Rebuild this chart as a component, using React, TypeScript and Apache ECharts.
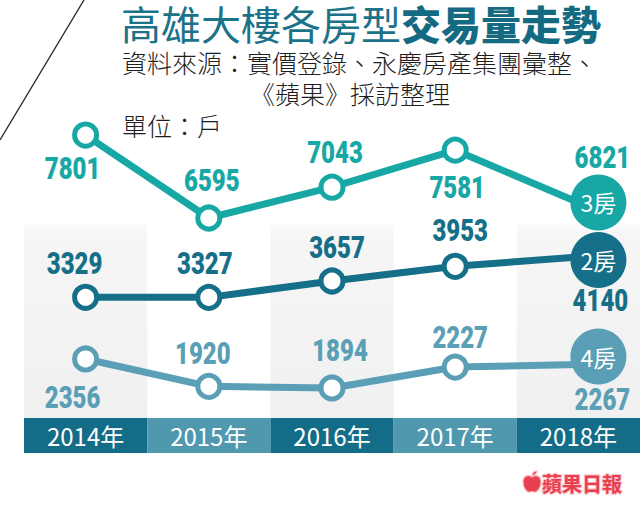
import React, { useEffect, useRef } from 'react';
import * as echarts from 'echarts';

const years = ['2014年', '2015年', '2016年', '2017年', '2018年'];
const seriesNames = ['3房', '2房', '4房'];
const rooms3 = [7801, 6595, 7043, 7581, 6821];
const rooms2 = [3329, 3327, 3657, 3953, 4140];
const rooms4 = [2356, 1920, 1894, 2227, 2267];

const title1 = '高雄大樓各房型';
const title2 = '交易量走勢';
const source1 = '資料來源：實價登錄、永慶房產集團彙整、';
const source2 = '《蘋果》採訪整理';
const unitText = '單位：戶';
const logoText = '蘋果日報';

// layout (label offsets relative to each point)
const off3 = [[-13, 33], [3, -38], [3, -35], [2, 37], [24, -45]];
const off2 = [[-11, -34], [-4, -34], [5, -34], [5, -36], [22, 43]];
const off4 = [[-13, 38], [-6, -33], [8, -38], [5, -30], [24, 35]];
const endOffsets = [[20, 0], [20, 3], [20, -8]];
const axisRanges = [[3688, 9764], [895, 9322], [1416, 8072]];

const C3 = '#17a8a5';
const C2 = '#156f88';
const C4 = '#5a9fb6';
const NUM_FONT = "900 32px Roboto, 'Liberation Sans', sans-serif";
const CJK = "'Noto Sans CJK TC', 'Noto Sans', sans-serif";

const APPLE = 'M10 6 C6 3 1 5 1 11 C1 17 5 22 8 21 C9 20.5 11 20.5 12 21 C15 22 19 17 19 11 C19 5 14 3 10 6 Z M10 5 C10 2 12 0 15 0 C15 2 13 4 10 5 Z';

function lineSeries(name: string, values: number[], color: string, yIdx: number) {
  return {
    type: 'line',
    name,
    xAxisIndex: 0,
    yAxisIndex: yIdx,
    symbol: 'circle',
    symbolSize: 22,
    lineStyle: { width: 7, color },
    itemStyle: { color: '#ffffff', borderColor: color, borderWidth: 5 },
    data: values.map((v, i) => ({
      value: v,
      symbolSize: i === values.length - 1 ? 1 : 22,
    })),
    z: 3,
  };
}

function labelSeries(values: number[], offs: number[][], color: string, yIdx: number) {
  return {
    type: 'custom',
    xAxisIndex: 0,
    yAxisIndex: yIdx,
    data: values.map((v, i) => [i, v]),
    renderItem: (params: any, api: any) => {
      const i = params.dataIndex;
      const p = api.coord([api.value(0), api.value(1)]);
      return {
        type: 'text',
        x: p[0] + offs[i][0],
        y: p[1] + offs[i][1],
        scaleX: 0.75,
        style: {
          text: String(values[i]),
          font: NUM_FONT,
          fill: color,
          align: 'center',
          verticalAlign: 'middle',
        },
      };
    },
    z: 4,
  };
}

function endSeries(name: string, values: number[], color: string, yIdx: number, off: number[]) {
  return {
    type: 'scatter',
    xAxisIndex: 0,
    yAxisIndex: yIdx,
    symbol: 'circle',
    symbolSize: 56,
    itemStyle: { color, opacity: 1 },
    label: {
      show: true,
      position: 'inside',
      formatter: name,
      color: '#ffffff',
      fontSize: 23,
      fontFamily: CJK,
    },
    data: [{ value: [years[years.length - 1], values[values.length - 1]], symbolOffset: off }],
    z: 5,
  };
}

export default function App() {
  const ref = useRef<HTMLDivElement>(null);
  useEffect(() => {
    if (!ref.current) return;
    try {
      echarts.graphic.registerShape('apple', echarts.graphic.extendPath(APPLE, {}) as any);
    } catch (e) {}
    const chart = echarts.init(ref.current, undefined, { renderer: 'svg' });
    const grayGrad = new echarts.graphic.LinearGradient(0, 0, 0, 1, [
      { offset: 0, color: 'rgba(244,244,244,0)' },
      { offset: 0.53, color: 'rgba(244,244,244,0)' },
      { offset: 0.56, color: 'rgba(246,246,246,1)' },
      { offset: 1, color: 'rgba(240,240,240,1)' },
    ]);
    const subStyle = (text: string) => ({
      text,
      font: `300 25px ${CJK}`,
      lineHeight: 26,
      fill: '#1e1e1e',
      verticalAlign: 'middle',
    });
    const option: any = {
      animation: false,
      backgroundColor: '#ffffff',
      grid: [
        { left: 24, right: 0, top: 0, height: 418 },
        { left: 24, right: 0, top: 418, height: 35 },
      ],
      xAxis: [
        {
          type: 'category',
          gridIndex: 0,
          data: years,
          boundaryGap: true,
          axisLine: { show: false },
          axisTick: { show: false },
          axisLabel: { show: false },
          splitArea: { show: true, interval: 0, areaStyle: { color: [grayGrad, 'rgba(255,255,255,0)'] } },
        },
        {
          type: 'category',
          gridIndex: 1,
          data: years,
          boundaryGap: true,
          axisLine: { show: false },
          axisTick: { show: false },
          axisLabel: {
            show: true,
            interval: 0,
            color: '#ffffff',
            fontSize: 24,
            fontFamily: CJK,
            fontWeight: 'normal',
            margin: -18,
            verticalAlign: 'middle',
          },
          splitArea: { show: true, interval: 0, areaStyle: { color: ['#146d88', '#4f98ae'] } },
        },
      ],
      yAxis: [
        { type: 'value', gridIndex: 0, show: false, min: axisRanges[0][0], max: axisRanges[0][1] },
        { type: 'value', gridIndex: 0, show: false, min: axisRanges[1][0], max: axisRanges[1][1] },
        { type: 'value', gridIndex: 0, show: false, min: axisRanges[2][0], max: axisRanges[2][1] },
        { type: 'value', gridIndex: 1, show: false },
      ],
      series: [
        lineSeries(seriesNames[0], rooms3, C3, 0),
        lineSeries(seriesNames[1], rooms2, C2, 1),
        lineSeries(seriesNames[2], rooms4, C4, 2),
        labelSeries(rooms3, off3, C3, 0),
        labelSeries(rooms2, off2, C2, 1),
        labelSeries(rooms4, off4, C4, 2),
        endSeries(seriesNames[0], rooms3, C3, 0, endOffsets[0]),
        endSeries(seriesNames[1], rooms2, C2, 1, endOffsets[1]),
        endSeries(seriesNames[2], rooms4, C4, 2, endOffsets[2]),
      ],
      graphic: [
        { type: 'line', shape: { x1: 84, y1: 0, x2: 0, y2: 140 }, style: { stroke: '#222222', lineWidth: 1.3 } },
        {
          type: 'text', x: 121, y: 23,
          style: { text: title1, font: `normal 40px ${CJK}`, lineHeight: 40, fill: '#1c7289', verticalAlign: 'middle' },
        },
        {
          type: 'text', x: 401, y: 23,
          style: { text: title2, font: `900 40px ${CJK}`, lineHeight: 40, fill: '#146a81', verticalAlign: 'middle' },
        },
        { type: 'text', x: 122, y: 62, style: subStyle(source1) },
        { type: 'text', x: 250, y: 93, style: subStyle(source2) },
        { type: 'text', x: 122, y: 125, style: subStyle(unitText) },
        {
          type: 'apple', x: 522, y: 471, scaleX: 1, scaleY: 1,
          style: { fill: '#e8404f', stroke: '#f7b7bf', lineWidth: 1.2 },
        },
        {
          type: 'text', x: 542, y: 483,
          style: {
            text: logoText, font: `bold 20px ${CJK}`, fill: '#e8404f',
            stroke: '#f9c4cb', lineWidth: 2, verticalAlign: 'middle',
          },
        },
      ],
    };
    chart.setOption(option);
    return () => chart.dispose();
  }, []);
  return (
    <div
      ref={ref}
      style={{ position: 'fixed', left: 0, top: 0, width: 640, height: 513, background: '#fff' }}
    />
  );
}
